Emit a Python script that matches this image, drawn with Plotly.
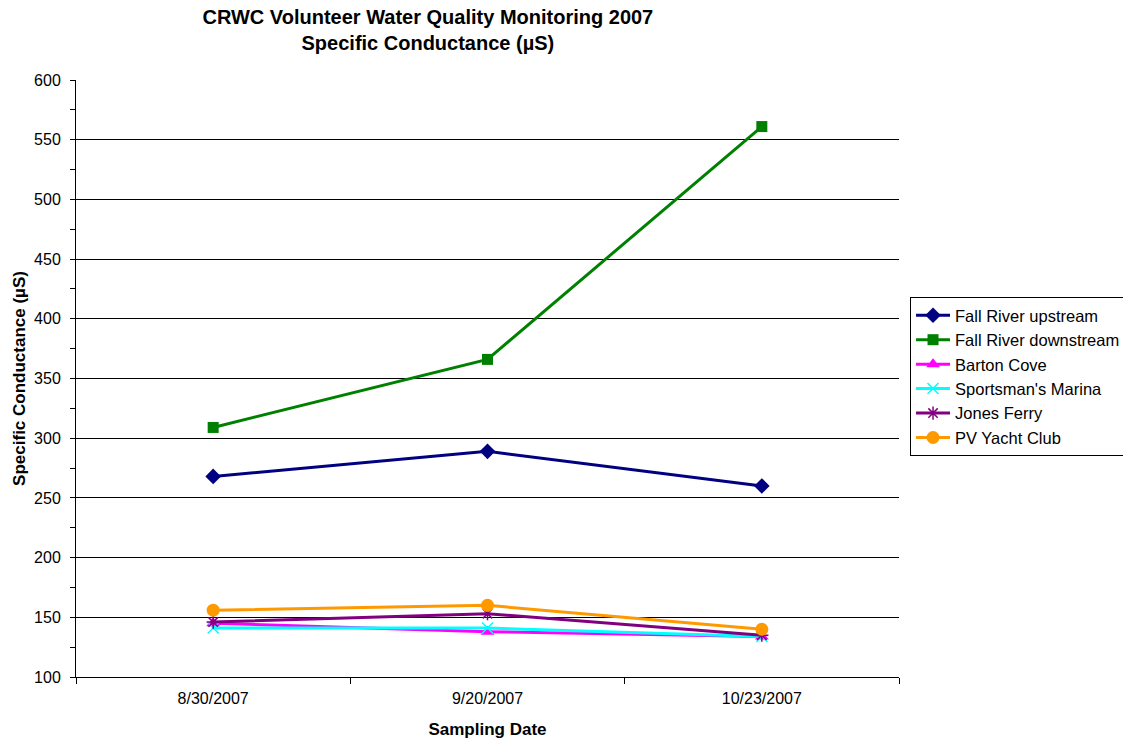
import plotly.graph_objects as go

# Sampling dates (categories on the x axis)
dates = ["8/30/2007", "9/20/2007", "10/23/2007"]

# Specific conductance (µS) per site
fall_river_upstream = [268, 289, 260]
fall_river_downstream = [309, 366, 561]
barton_cove = [145, 138, 134]
sportsmans_marina = [141, 141, 134]
jones_ferry = [146, 153, 135]
pv_yacht_club = [156, 160, 140]

y_ticks = [100, 150, 200, 250, 300, 350, 400, 450, 500, 550, 600]

series = [
    ("Fall River upstream", fall_river_upstream, "#000080", "diamond", 12),
    ("Fall River downstream", fall_river_downstream, "#008000", "square", 11),
    ("Barton Cove", barton_cove, "#FF00FF", "triangle-up", 12),
    ("Sportsman's Marina", sportsmans_marina, "#00FFFF", "x-thin-open", 11),
    ("Jones Ferry", jones_ferry, "#800080", "asterisk-open", 11),
    ("PV Yacht Club", pv_yacht_club, "#FF9900", "circle", 13),
]

fig = go.Figure()
for name, vals, color, symbol, size in series:
    fig.add_trace(go.Scatter(
        x=dates, y=vals, name=name, mode="lines+markers",
        line=dict(color=color, width=3),
        marker=dict(symbol=symbol, size=size, color=color,
                    line=dict(color=color, width=1.5 if "open" in symbol else 0)),
    ))

font_family = "Liberation Sans, Arial, sans-serif"

fig.update_layout(
    width=1123, height=740,
    margin=dict(l=76, r=224, t=80, b=63, autoexpand=False),
    paper_bgcolor="white", plot_bgcolor="white",
    font=dict(family=font_family, size=16, color="black"),
    title=dict(
        text="<b>CRWC Volunteer Water Quality Monitoring 2007<br>Specific Conductance (µS)</b>",
        x=0.381, xanchor="center", y=0.967, yanchor="top",
        font=dict(size=20, family=font_family),
    ),
    showlegend=True,
    legend=dict(
        x=1.0134, xanchor="left", y=0.6365, yanchor="top",
        bordercolor="black", borderwidth=1,
        font=dict(size=16.5, family=font_family),
        tracegroupgap=0, itemwidth=34,
    ),
    xaxis=dict(
        type="category", range=[-0.5, 2.5],
        showline=True, linecolor="black", linewidth=1,
        ticks="outside", tickson="boundaries", ticklen=6, tickcolor="black",
        ticklabelstandoff=7,
        showgrid=False,
        title=dict(text="<b>Sampling Date</b>", font=dict(size=17), standoff=16),
        tickfont=dict(size=16),
    ),
    yaxis=dict(
        range=[100, 600], tickvals=y_ticks,
        showline=True, linecolor="black", linewidth=1,
        ticks="outside", ticklen=5, tickcolor="black",
        ticklabelstandoff=6,
        showgrid=True, gridcolor="black", gridwidth=1,
        zeroline=False,
        minor=dict(dtick=25, ticks="outside", ticklen=5, tickcolor="black", showgrid=False),
        title=dict(text="<b>Specific Conductance (µS)</b>", font=dict(size=17), standoff=4),
        tickfont=dict(size=16),
    ),
)

fig.write_html("out.html")
